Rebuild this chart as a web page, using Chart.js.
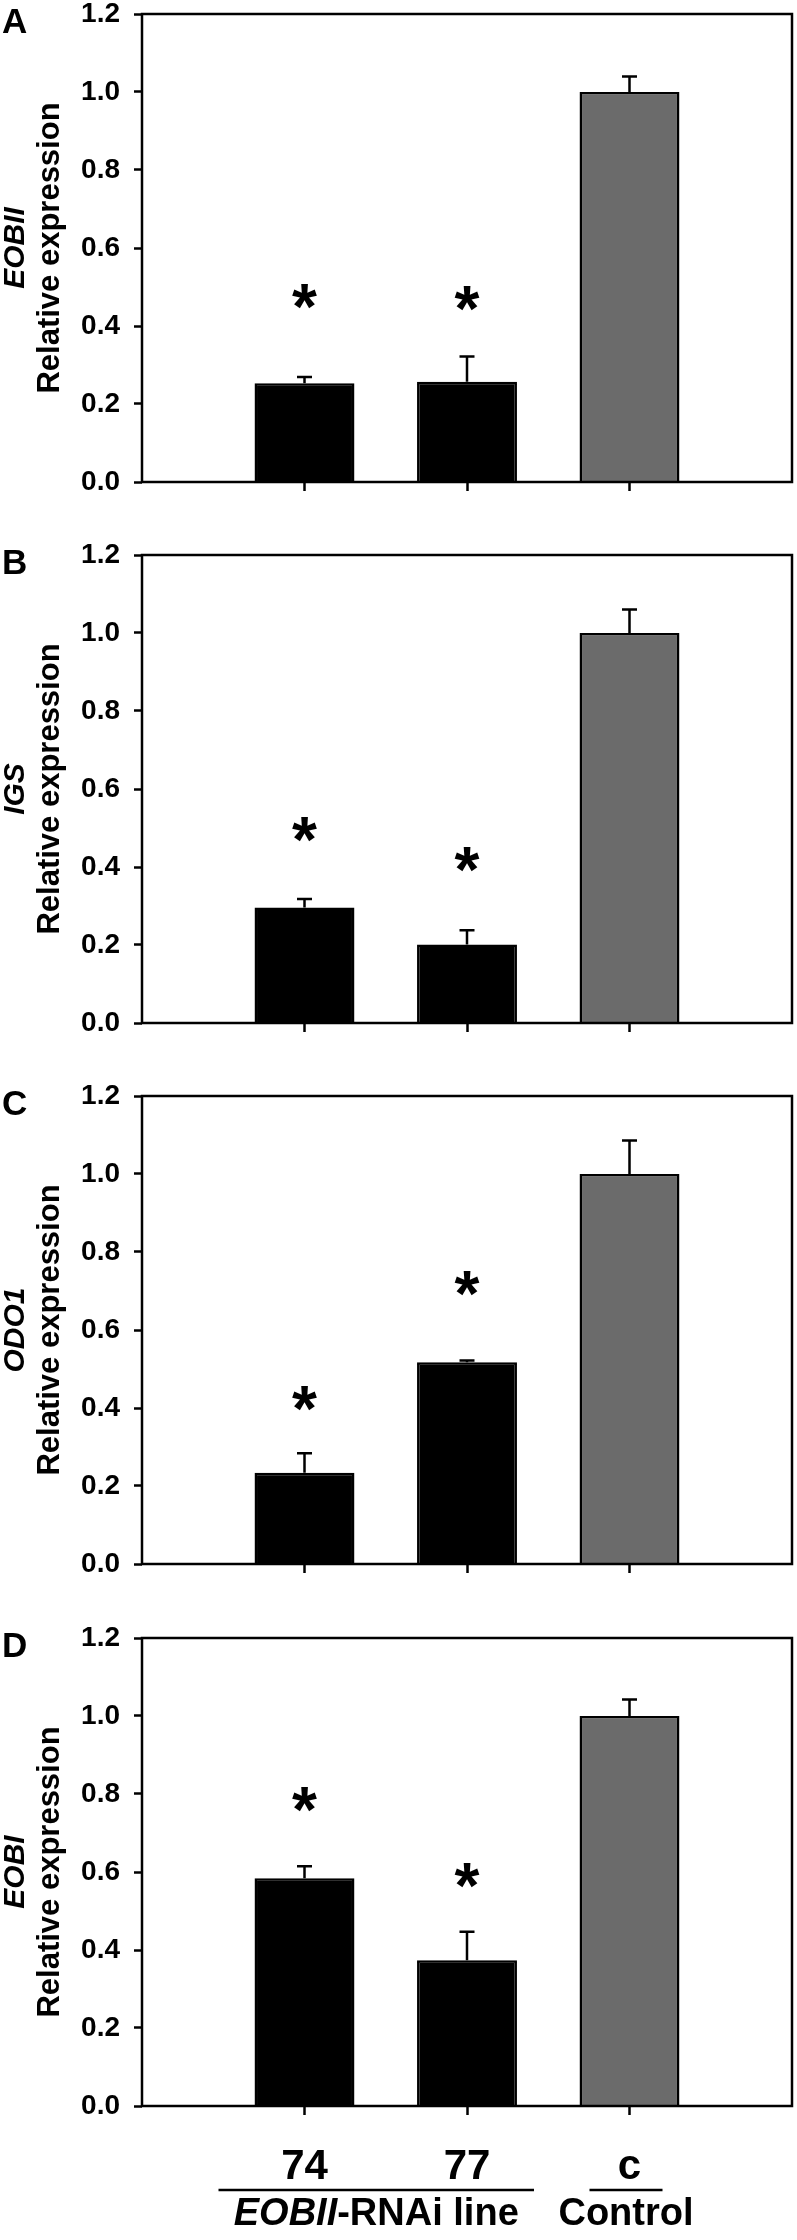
<!DOCTYPE html>
<html>
<head>
<meta charset="utf-8">
<script src="https://cdn.jsdelivr.net/npm/chart.js@4.4.0/dist/chart.umd.min.js"></script>
<style>
    body { margin: 0; background: #fff; }
    #wrap { position: relative; width: 797px; height: 2240px; }
    canvas { position: absolute; left: 0; }
</style>
</head>
<body>
<div id="wrap">
    <canvas id="panelA" width="797" height="541" style="top:0px"></canvas>
    <canvas id="panelB" width="797" height="541" style="top:541px"></canvas>
    <canvas id="panelC" width="797" height="541" style="top:1082px"></canvas>
    <canvas id="panelD" width="797" height="616" style="top:1624px"></canvas>
</div>
<script>
// Categories (empty ends give the side margins of the plot)
const lines = ['', '74', '77', 'c', ''];
const barColors = ['#000000', '#000000', '#6b6b6b'];
const yTicks = [0, 0.2, 0.4, 0.6, 0.8, 1.0, 1.2];

// Panel A - EOBII
const eobiiMean = [0.253, 0.257, 1.0];
const eobiiErr = [0.016, 0.065, 0.040];
const eobiiStar = [0.476, 0.471, null];

// Panel B - IGS
const igsMean = [0.296, 0.201, 1.0];
const igsErr = [0.022, 0.037, 0.060];
const igsStar = [0.495, 0.420, null];

// Panel C - ODO1
const odo1Mean = [0.234, 0.517, 1.0];
const odo1Err = [0.050, 0.005, 0.086];
const odo1Star = [0.425, 0.718, null];

// Panel D - EOBI
const eobiMean = [0.584, 0.374, 1.0];
const eobiErr = [0.031, 0.073, 0.042];
const eobiStar = [0.785, 0.590, null];

// Group captions under panel D
const groupItalic = ['EOBII', ''];
const groupPlain = ['-RNAi line', 'Control'];
const groupFrom = [1, 3];
const groupTo = [2, 3];

const FONT = '"Liberation Sans", Arial, sans-serif';

const panelPlugin = {
    id: 'panel',
    afterDatasetsDraw(chart, args, opts) {
        const ctx = chart.ctx;
        const meta = chart.getDatasetMeta(0);
        const y = chart.scales.y;
        ctx.save();
        ctx.strokeStyle = '#000';
        ctx.lineWidth = 2.5;
        // error bars
        opts.err.forEach((e, i) => {
            const bar = meta.data[i + 1];
            const top = y.getPixelForValue(opts.mean[i] + e);
            ctx.beginPath();
            ctx.moveTo(bar.x, bar.y);
            ctx.lineTo(bar.x, top);
            ctx.moveTo(bar.x - 7.5, top);
            ctx.lineTo(bar.x + 7.5, top);
            ctx.stroke();
        });
        // asterisks
        ctx.fillStyle = '#000';
        ctx.font = 'bold 64px ' + FONT;
        ctx.textAlign = 'center';
        ctx.textBaseline = 'alphabetic';
        const m = ctx.measureText('*');
        const shift = (m.actualBoundingBoxAscent - m.actualBoundingBoxDescent) / 2;
        opts.star.forEach((s, i) => {
            if (s == null) return;
            const bar = meta.data[i + 1];
            ctx.fillText('*', bar.x, y.getPixelForValue(s) + shift);
        });
        ctx.restore();
    },
    afterDraw(chart, args, opts) {
        const ctx = chart.ctx;
        const a = chart.chartArea;
        const x = chart.scales.x;
        ctx.save();
        // frame
        ctx.strokeStyle = '#000';
        ctx.lineWidth = 2.5;
        ctx.strokeRect(a.left, a.top, a.right - a.left, a.bottom - a.top);
        // panel letter
        ctx.fillStyle = '#000';
        ctx.font = 'bold 35px ' + FONT;
        ctx.textAlign = 'left';
        ctx.textBaseline = 'alphabetic';
        ctx.fillText(opts.letter, 2, a.top + 19);
        // y title, two lines
        const cy = (a.top + a.bottom) / 2;
        ctx.textAlign = 'center';
        ctx.save();
        ctx.translate(24, cy);
        ctx.rotate(-Math.PI / 2);
        ctx.font = 'italic bold 30px ' + FONT;
        ctx.fillText(opts.gene, 0, 0);
        ctx.restore();
        ctx.save();
        ctx.translate(59, cy);
        ctx.rotate(-Math.PI / 2);
        ctx.font = 'bold 31px ' + FONT;
        ctx.fillText('Relative expression', 0, 0);
        ctx.restore();
        // group captions
        if (opts.groups) {
            groupFrom.forEach((g, i) => {
                const x0 = x.getPixelForValue(g) - (i === 0 ? 86 : 40);
                const x1 = x.getPixelForValue(groupTo[i]) + (i === 0 ? 67 : 33);
                const lineY = a.bottom + 84;
                ctx.beginPath();
                ctx.moveTo(x0, lineY);
                ctx.lineTo(x1, lineY);
                ctx.stroke();
                ctx.font = 'italic bold 38px ' + FONT;
                const w1 = ctx.measureText(groupItalic[i]).width;
                ctx.font = 'bold 38px ' + FONT;
                const w2 = ctx.measureText(groupPlain[i]).width;
                let tx = (x0 + x1) / 2 - (w1 + w2) / 2;
                ctx.textAlign = 'left';
                ctx.font = 'italic bold 38px ' + FONT;
                ctx.fillText(groupItalic[i], tx, lineY + 35);
                ctx.font = 'bold 38px ' + FONT;
                ctx.fillText(groupPlain[i], tx + w1, lineY + 35);
            });
        }
        ctx.restore();
    }
};

function makePanel(id, letter, gene, mean, err, star, showLabels) {
    const canvas = document.getElementById(id);
    const values = [null, ...mean, null];
    new Chart(canvas, {
        type: 'bar',
        data: {
            labels: lines,
            datasets: [{
                data: values,
                backgroundColor: [null, ...barColors, null],
                borderColor: '#000',
                borderWidth: 2.5,
                borderSkipped: 'start',
                barPercentage: 0.615,
                categoryPercentage: 1
            }]
        },
        options: {
            responsive: false,
            animation: false,
            layout: { padding: { top: 14, right: 5, left: 0, bottom: 0 } },
            plugins: {
                legend: { display: false },
                tooltip: { enabled: false },
                panel: { letter, gene, mean, err, star, groups: showLabels }
            },
            scales: {
                x: {
                    type: 'category',
                    offset: false,
                    grid: {
                        offset: false,
                        drawOnChartArea: false,
                        tickLength: 9,
                        tickWidth: 2.5,
                        tickColor: (c) => lines[c.index] ? '#000' : 'rgba(0,0,0,0)'
                    },
                    border: { display: false },
                    ticks: {
                        display: showLabels,
                        color: '#000',
                        padding: 27,
                        autoSkip: false,
                        maxRotation: 0,
                        font: { family: FONT, size: 42, weight: 'bold', lineHeight: 1.2 }
                    },
                    afterFit(scale) {
                        scale.height = canvas.height - 482;
                        scale.paddingLeft = 0;
                        scale.paddingRight = 0;
                    }
                },
                y: {
                    min: 0,
                    max: 1.2,
                    afterBuildTicks(scale) {
                        scale.ticks = yTicks.map(v => ({ value: v }));
                    },
                    grid: {
                        drawOnChartArea: false,
                        tickLength: 8,
                        tickWidth: 2.5,
                        tickColor: '#000'
                    },
                    border: { display: false },
                    ticks: {
                        color: '#000',
                        padding: 14,
                        callback: (v) => Number(v).toFixed(1),
                        font: { family: FONT, size: 28, weight: 'bold', lineHeight: 1 }
                    },
                    afterFit(scale) {
                        scale.width = 142;
                        scale.paddingTop = 0;
                        scale.paddingBottom = 0;
                    }
                }
            }
        },
        plugins: [panelPlugin]
    });
}

makePanel('panelA', 'A', 'EOBII', eobiiMean, eobiiErr, eobiiStar, false);
makePanel('panelB', 'B', 'IGS', igsMean, igsErr, igsStar, false);
makePanel('panelC', 'C', 'ODO1', odo1Mean, odo1Err, odo1Star, false);
makePanel('panelD', 'D', 'EOBI', eobiMean, eobiErr, eobiStar, true);
</script>
</body>
</html>
